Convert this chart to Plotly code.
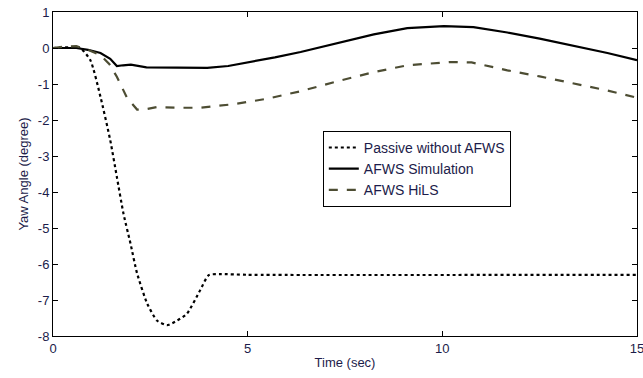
import plotly.graph_objects as go

# Passive without AFWS (dotted)
t_passive = [0, 0.5, 0.7, 0.96, 1.22, 1.47, 1.64, 1.81, 1.99, 2.16, 2.42, 2.67, 2.93, 3.19, 3.44, 3.78, 4.0, 4.3, 5.0, 15.0]
v_passive = [0, 0.02, 0, -0.34, -1.36, -2.56, -3.58, -4.6, -5.43, -6.26, -7.1, -7.57, -7.7, -7.57, -7.38, -6.73, -6.31, -6.28, -6.3, -6.3]

# AFWS Simulation (solid)
t_sim = [0, 0.6, 0.9, 1.22, 1.47, 1.64, 1.8, 2.0, 2.4, 3.0, 3.96, 4.5, 5.07, 5.7, 6.36, 7.0, 7.64, 8.24, 9.1, 10.04, 10.8, 11.67, 12.5, 13.37, 14.24, 15.0]
v_sim = [0, 0, -0.05, -0.14, -0.3, -0.5, -0.48, -0.46, -0.54, -0.55, -0.55, -0.5, -0.39, -0.26, -0.11, 0.06, 0.24, 0.38, 0.55, 0.61, 0.58, 0.43, 0.26, 0.06, -0.14, -0.34]

# AFWS HiLS (dashed)
t_hils = [0, 0.3, 0.6, 0.9, 1.22, 1.45, 1.64, 1.9, 2.16, 2.33, 2.67, 3.2, 3.78, 4.64, 5.5, 6.36, 7.39, 8.24, 9.1, 9.7, 10.2, 10.75, 11.67, 12.5, 13.37, 14.24, 15.0]
v_hils = [0, 0.04, 0.05, -0.05, -0.2, -0.45, -0.8, -1.38, -1.71, -1.71, -1.64, -1.66, -1.66, -1.56, -1.41, -1.2, -0.9, -0.67, -0.48, -0.42, -0.39, -0.4, -0.62, -0.79, -0.99, -1.18, -1.38]

x_ticks = [0, 5, 10, 15]
y_ticks = [1, 0, -1, -2, -3, -4, -5, -6, -7, -8]

label_color = "#1c1c4a"
font_family = "Liberation Sans, Arial, sans-serif"

fig = go.Figure()
fig.add_trace(go.Scatter(x=t_passive, y=v_passive, mode="lines", name="Passive without AFWS",
                         line=dict(color="black", width=2.2, dash="dot", shape="spline", smoothing=0.6)))
fig.add_trace(go.Scatter(x=t_sim, y=v_sim, mode="lines", name="AFWS Simulation",
                         line=dict(color="black", width=2.2)))
fig.add_trace(go.Scatter(x=t_hils, y=v_hils, mode="lines", name="AFWS HiLS",
                         line=dict(color="#4d4d33", width=2.2, dash="dash")))

axis_common = dict(showgrid=False, zeroline=False, showline=True, linecolor="black", linewidth=1,
                   mirror="allticks", ticks="inside", ticklen=5, tickcolor="black",
                   ticklabeloverflow="allow", automargin=False,
                   tickfont=dict(family=font_family, size=13, color=label_color))

fig.update_layout(
    width=643, height=378,
    margin=dict(l=53, r=6, t=12, b=42, autoexpand=False),
    paper_bgcolor="white", plot_bgcolor="white",
    font=dict(family=font_family, size=13, color=label_color),
    xaxis=dict(range=[0, 15], tickvals=x_ticks, ticktext=[str(v) for v in x_ticks],
               title=dict(text="Time (sec)", standoff=3, font=dict(size=13, color=label_color)),
               **axis_common),
    yaxis=dict(range=[-8, 1], tickvals=y_ticks, ticktext=[str(v) for v in y_ticks],
               title=dict(text="Yaw Angle (degree)", standoff=6, font=dict(size=13, color=label_color)),
               **axis_common),
    legend=dict(x=0.462, y=0.633, xanchor="left", yanchor="top",
                bgcolor="white", bordercolor="black", borderwidth=1,
                font=dict(family=font_family, size=14, color=label_color),
                tracegroupgap=0),
    showlegend=True,
)

fig.write_html("out.html")
